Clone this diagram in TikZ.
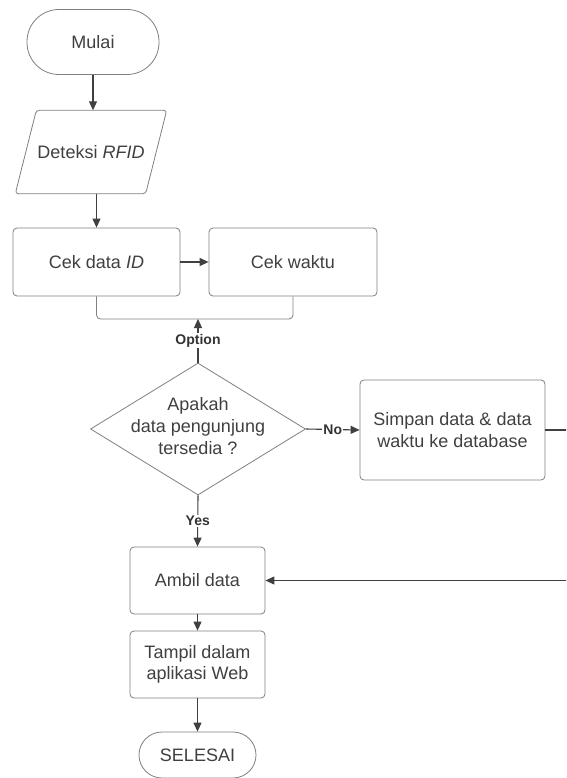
\documentclass[tikz,border=0pt]{standalone}
\usepackage{fontspec}
\setmainfont{Liberation Sans}
\usetikzlibrary{shapes.geometric,arrows.meta}

\begin{document}
\begin{tikzpicture}[x=1pt,y=-1pt,
  font=\fontsize{18}{21.6}\selectfont,
  txt/.style={text=black!75},
  term/.style={draw=black!50,line width=0.8pt,rounded corners=#1,txt},
  box/.style={draw=black!50,line width=0.8pt,rounded corners=4pt,align=center,txt,inner sep=0pt},
  arr/.style={draw=black!75,line width=1.1pt,-{Triangle[length=9pt,width=8pt]}},
  lbl/.style={fill=white,font=\fontsize{14}{16}\selectfont\bfseries,text=black!80,inner sep=1pt}]
\clip (0,0) rectangle (566,778);
\fill[white] (0,0) rectangle (566,778);

\node[term=32pt,minimum width=132pt,minimum height=65pt] (mulai) at (93,42) {Mulai};
\node[txt,minimum width=130pt,minimum height=83pt,inner sep=0pt] (rfid) at (91,152) {Deteksi \textit{RFID}};
\node[box,minimum width=167pt,minimum height=68pt] (cekid) at (96.5,262) {Cek data \textit{ID}};
\node[box,minimum width=168pt,minimum height=68pt] (cekwaktu) at (293,262) {Cek waktu};
\coordinate (gabung) at (198,319);
\node[draw=black!50,line width=0.8pt,diamond,minimum width=215pt,minimum height=132pt,inner sep=0pt] (cek) at (198,429) {};
\node[txt,align=center] (tanya) at (198,426) {Apakah\\data pengunjung\\tersedia ?};
\node[box,minimum width=185pt,minimum height=100pt] (simpan) at (452.5,430) {Simpan data \& data\\waktu ke database};
\node[box,minimum width=135pt,minimum height=67pt] (ambil) at (197.5,580.5) {Ambil data};
\node[box,minimum width=135pt,minimum height=67pt] (tampil) at (197.5,664.5) {Tampil dalam\\aplikasi Web};
\node[term=23pt,minimum width=117pt,minimum height=46pt] (selesai) at (197.5,755) {SELESAI};
\coordinate (kanan) at (590,505);

% parallelogram round the RFID node
\draw[black!50,line width=0.8pt,rounded corners=3pt] ([xshift=-10.5pt]rfid.south west) -- ([xshift=10.5pt]rfid.north west)
  -- ([xshift=10.5pt]rfid.north east) -- ([xshift=-10.5pt]rfid.south east) -- cycle;

\draw[arr] (mulai.south) -- (mulai.south |- rfid.north);
\draw[arr] (cekid.north |- rfid.south) -- (cekid.north);
\draw[arr] (cekid) -- (cekwaktu);
\draw[black!50,line width=0.8pt,rounded corners=4pt] (cekid.south) -- (cekid.south |- gabung) -| (cekwaktu.south);
\draw[arr] (cek.north) -- node[lbl]{Option} (gabung);
\draw[arr] (cek.east) -- node[lbl]{No} (simpan.west);
\draw[arr] (cek.south) -- node[lbl]{Yes} (ambil.north);
\draw[arr] (simpan.east) -- (simpan.east -| kanan) |- (ambil.east);
\draw[arr] (ambil) -- (tampil);
\draw[arr] (tampil) -- (selesai);
\end{tikzpicture}
\end{document}
